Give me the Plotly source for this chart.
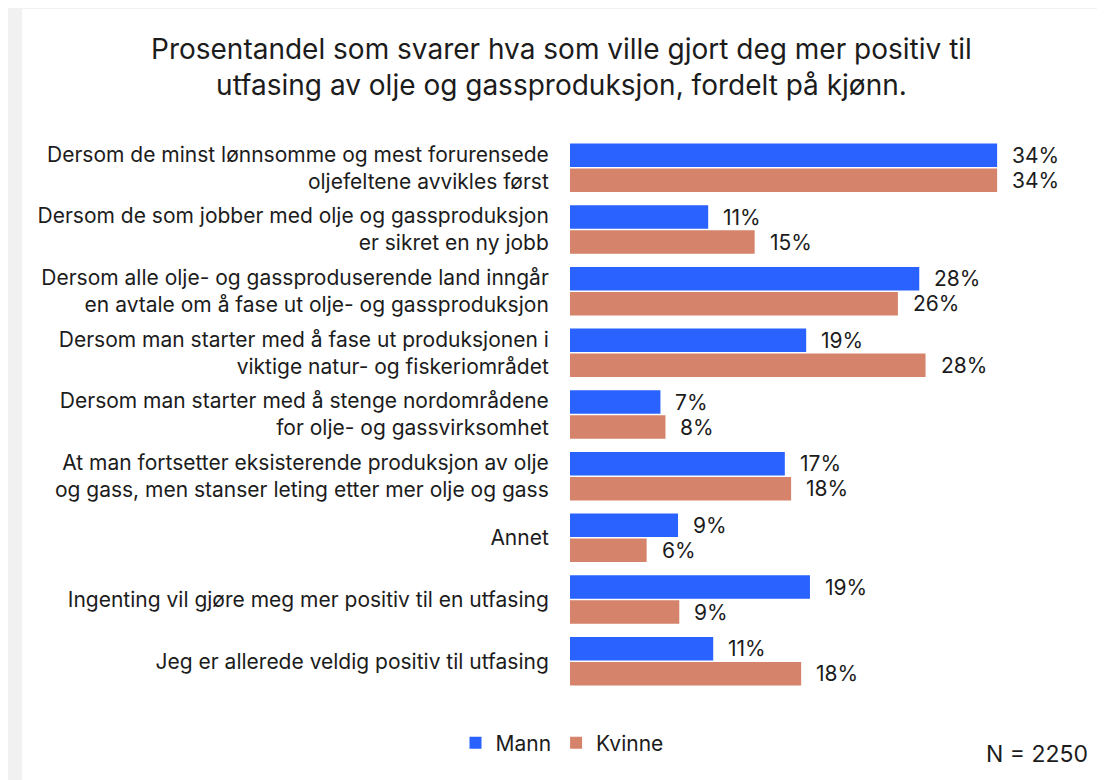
import plotly.graph_objects as go

categories = [
    "Dersom de minst lønnsomme og mest forurensede<br>oljefeltene avvikles først",
    "Dersom de som jobber med olje og gassproduksjon<br>er sikret en ny jobb",
    "Dersom alle olje- og gassproduserende land inngår<br>en avtale om å fase ut olje- og gassproduksjon",
    "Dersom man starter med å fase ut produksjonen i<br>viktige natur- og fiskeriområdet",
    "Dersom man starter med å stenge nordområdene<br>for olje- og gassvirksomhet",
    "At man fortsetter eksisterende produksjon av olje<br>og gass, men stanser leting etter mer olje og gass",
    "Annet",
    "Ingenting vil gjøre meg mer positiv til en utfasing",
    "Jeg er allerede veldig positiv til utfasing",
]
mann = [34.0, 11.0, 27.8, 18.8, 7.2, 17.1, 8.6, 19.1, 11.4]
kvinne = [34.0, 14.7, 26.1, 28.3, 7.6, 17.6, 6.1, 8.7, 18.4]
mann_labels = ["34%", "11%", "28%", "19%", "7%", "17%", "9%", "19%", "11%"]
kvinne_labels = ["34%", "15%", "26%", "28%", "8%", "18%", "6%", "9%", "18%"]

BLUE = "#2962ff"
SALMON = "#d5836a"
FONT = "Inter"
TXT = "#1c1c1c"

# page offset (browser body margin)
OFF = 8
W, H = 1105, 780
ML = 570 - OFF
MT = 137 - OFF
PH = 555
PW = 500
MB = H - MT - PH
MR = W - ML - PW

def px_to_paper_x(px):
    return (px - OFF - ML) / PW

def px_to_paper_y(py):
    return (MT + PH - (py - OFF)) / PH

fig = go.Figure()
fig.add_trace(go.Bar(y=categories, x=mann, name="Mann", orientation="h",
                     marker=dict(color=BLUE, line=dict(width=0))))
fig.add_trace(go.Bar(y=categories, x=kvinne, name="Kvinne", orientation="h",
                     marker=dict(color=SALMON, line=dict(width=0))))

annotations = []
for c, v, t in zip(categories, mann, mann_labels):
    annotations.append(dict(x=v, y=c, text=t, xanchor="left", yanchor="middle",
                            showarrow=False, xshift=13, yshift=12.5,
                            font=dict(family=FONT, size=21, color=TXT)))
for c, v, t in zip(categories, kvinne, kvinne_labels):
    annotations.append(dict(x=v, y=c, text=t, xanchor="left", yanchor="middle",
                            showarrow=False, xshift=13, yshift=-12.5,
                            font=dict(family=FONT, size=21, color=TXT)))

annotations.append(dict(
    x=px_to_paper_x(561), y=px_to_paper_y(67), xref="paper", yref="paper",
    text="Prosentandel som svarer hva som ville gjort deg mer positiv til<br>utfasing av olje og gassproduksjon, fordelt på kjønn.",
    showarrow=False, xanchor="center", yanchor="middle", align="center",
    font=dict(family=FONT, size=28, color=TXT)))
annotations.append(dict(
    x=px_to_paper_x(1090), y=px_to_paper_y(754), xref="paper", yref="paper",
    text="N = 2250", showarrow=False, xanchor="right", yanchor="middle",
    font=dict(family=FONT, size=23, color=TXT)))

shapes = [dict(type="rect", xref="paper", yref="paper", layer="below",
               x0=px_to_paper_x(22), x1=px_to_paper_x(1100),
               y0=px_to_paper_y(800), y1=px_to_paper_y(9),
               fillcolor="white", line=dict(width=0))]

fig.update_layout(
    width=W, height=H,
    margin=dict(l=ML, r=MR, t=MT, b=MB, autoexpand=False),
    paper_bgcolor="#f1f1f1", plot_bgcolor="rgba(0,0,0,0)",
    barmode="group", bargap=0.19, bargroupgap=0.06,
    font=dict(family=FONT, color=TXT),
    xaxis=dict(range=[0, 39.8], visible=False, fixedrange=True),
    yaxis=dict(autorange="reversed", showgrid=False, zeroline=False, showline=False,
               ticks="outside", ticklen=16, tickcolor="rgba(0,0,0,0)",
               tickfont=dict(family=FONT, size=21, color=TXT)),
    legend=dict(orientation="h", x=px_to_paper_x(562), y=px_to_paper_y(743),
                xanchor="center", yanchor="middle",
                font=dict(family=FONT, size=21, color=TXT),
                bgcolor="rgba(0,0,0,0)", itemwidth=30, traceorder="normal"),
    annotations=annotations, shapes=shapes,
    showlegend=True,
)

fig.write_html("out.html")
